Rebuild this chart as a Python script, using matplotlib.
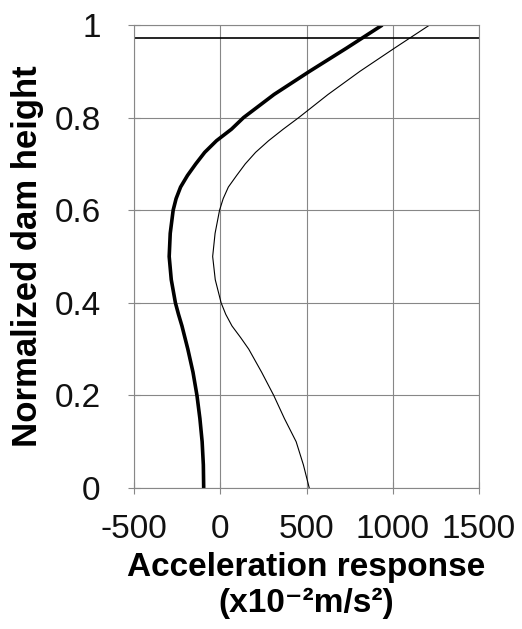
import matplotlib
matplotlib.use('Agg')
import matplotlib.pyplot as plt

plt.rcParams['font.family'] = ['Liberation Sans', 'DejaVu Sans']
plt.rcParams['axes.unicode_minus'] = False

# altura normalizada da barragem
heights = [0, 0.05, 0.1, 0.15, 0.2, 0.25, 0.3, 0.325, 0.35, 0.375, 0.4, 0.45, 0.5, 0.55,
           0.6, 0.625, 0.65, 0.675, 0.7, 0.725, 0.75, 0.775, 0.8,
           0.85, 0.9, 0.95, 1.0]

# resposta de aceleração (x10^-2 m/s^2)
accel_thick = [-96, -98, -105, -118, -135, -158, -188, -205, -222, -242, -260, -284, -296, -290,
               -273, -256, -230, -190, -142, -90, -22, 65, 135,
               312, 518, 732, 940]
accel_thin = [516, 482, 440, 372, 310, 240, 165, 118, 68, 32, 5, -29, -44, -30,
              -4, 17, 47, 95, 145, 205, 280, 365, 455,
              625, 810, 1010, 1214]

# nível marcado (linha horizontal)
ref_level = 0.972

x_ticks = [-500, 0, 500, 1000, 1500]
y_ticks = [0, 0.2, 0.4, 0.6, 0.8, 1]
y_tick_labels = ['0', '0.2', '0.4', '0.6', '0.8', '1']

fig = plt.figure(figsize=(5.22, 6.29), dpi=100)
ax = fig.add_axes([134 / 522, 1 - 488 / 629, 345 / 522, 463 / 629])

grid_color = '#878787'
ax.grid(True, color=grid_color, linewidth=0.8)
ax.set_axisbelow(True)
for s in ax.spines.values():
    s.set_color(grid_color)
    s.set_linewidth(0.8)

ax.plot(accel_thin, heights, color='black', linewidth=0.8)
ax.plot(accel_thick, heights, color='black', linewidth=2.6,
        solid_capstyle='butt', solid_joinstyle='round')
ax.axhline(ref_level, color='black', linewidth=1.2)

ax.set_xlim(-500, 1500)
ax.set_ylim(0, 1)
ax.set_xticks(x_ticks)
ax.set_yticks(y_ticks)
ax.set_yticklabels(y_tick_labels)

ax.tick_params(axis='both', direction='inout', length=8, width=0.8,
               color=grid_color, labelsize=24, labelcolor='#111111')
ax.tick_params(axis='y', pad=20)
ax.tick_params(axis='x', pad=15)

ax.set_xlabel('Acceleration response\n(x10\u207b\u00b2m/s\u00b2)',
              fontsize=24, fontweight='bold', linespacing=1.2)
ax.xaxis.set_label_coords(0.5, -0.138)
ax.set_ylabel('Normalized dam height', fontsize=25, fontweight='bold')
ax.yaxis.set_label_coords(-0.262, 0.5)

plt.savefig('out.png', dpi=100)
